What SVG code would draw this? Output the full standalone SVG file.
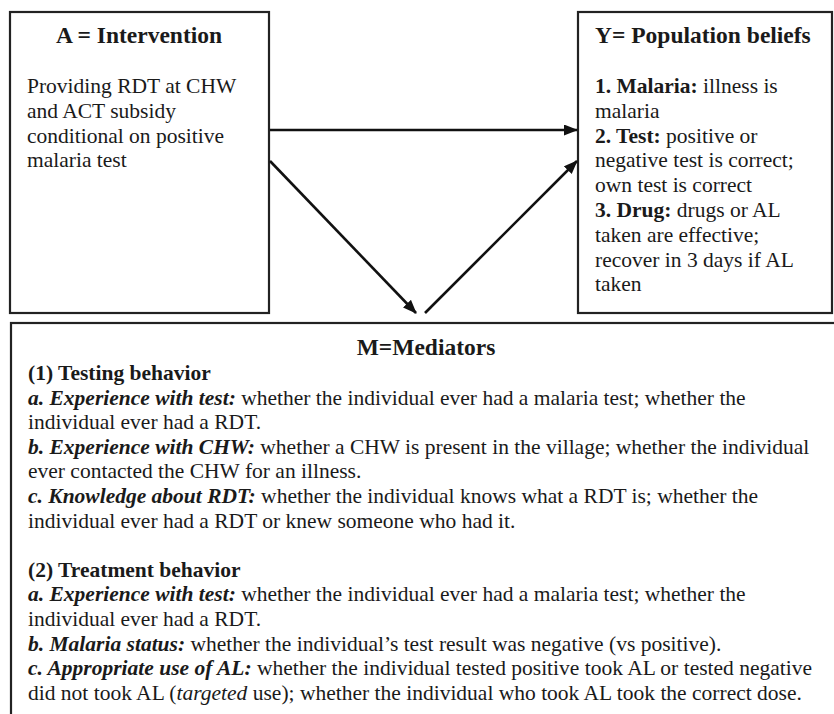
<svg xmlns="http://www.w3.org/2000/svg" width="834" height="714" viewBox="0 0 834 714">
<style>
text{font-family:"Liberation Serif","Times New Roman",serif;fill:#1a1a1a;font-size:21.5px}
.title{font-size:23.5px;font-weight:bold}
.b{font-weight:bold}
.bi{font-weight:bold;font-style:italic}
.i{font-style:italic}
.box{fill:#fff;stroke:#222;stroke-width:2.2}
.conn{stroke:#111;stroke-width:2.6;fill:none;marker-end:url(#ah)}
</style>
<defs>
<marker id="ah" markerUnits="userSpaceOnUse" markerWidth="14" markerHeight="12" refX="13" refY="5.5" orient="auto">
<path d="M0,0 L14,5.5 L0,11 z" fill="#111"/>
</marker>
</defs>
<rect width="834" height="714" fill="#fff"/>
<g id="nodeA">
<rect class="box" x="10" y="12" width="259" height="301"/>
<text class="title" x="139" y="43" text-anchor="middle">A = Intervention</text>
<text x="27" y="93">Providing RDT at CHW</text>
<text x="27" y="118">and ACT subsidy</text>
<text x="27" y="143">conditional on positive</text>
<text x="27" y="167">malaria test</text>
</g>
<g id="nodeY">
<rect class="box" x="578" y="12" width="254" height="301"/>
<text class="title" x="595" y="43">Y= Population beliefs</text>
<text x="595" y="93"><tspan class="b">1. Malaria:</tspan> illness is</text>
<text x="595" y="118">malaria</text>
<text x="595" y="143"><tspan class="b">2. Test:</tspan> positive or</text>
<text x="595" y="167">negative test is correct;</text>
<text x="595" y="192">own test is correct</text>
<text x="595" y="217"><tspan class="b">3. Drug:</tspan> drugs or AL</text>
<text x="595" y="242">taken are effective;</text>
<text x="595" y="267">recover in 3 days if AL</text>
<text x="595" y="291">taken</text>
</g>
<g id="nodeM">
<rect class="box" x="11" y="323" width="830" height="400"/>
<text class="title" x="426" y="355" text-anchor="middle">M=Mediators</text>
<text class="b" x="28" y="380">(1) Testing behavior</text>
<text x="28" y="405"><tspan class="bi">a. Experience with test:</tspan> whether the individual ever had a malaria test; whether the</text>
<text x="28" y="429">individual ever had a RDT.</text>
<text x="28" y="454"><tspan class="bi">b. Experience with CHW:</tspan> whether a CHW is present in the village; whether the individual</text>
<text x="28" y="478">ever contacted the CHW for an illness.</text>
<text x="28" y="503"><tspan class="bi">c. Knowledge about RDT:</tspan> whether the individual knows what a RDT is; whether the</text>
<text x="28" y="528">individual ever had a RDT or knew someone who had it.</text>
<text class="b" x="28" y="577">(2) Treatment behavior</text>
<text x="28" y="601"><tspan class="bi">a. Experience with test:</tspan> whether the individual ever had a malaria test; whether the</text>
<text x="28" y="626">individual ever had a RDT.</text>
<text x="28" y="651"><tspan class="bi">b. Malaria status:</tspan> whether the individual’s test result was negative (vs positive).</text>
<text x="28" y="675"><tspan class="bi">c. Appropriate use of AL:</tspan> whether the individual tested positive took AL or tested negative</text>
<text x="28" y="700">did not took AL (<tspan class="i">targeted</tspan> use); whether the individual who took AL took the correct dose.</text>
</g>
<g id="connectors">
<line class="conn" x1="270" y1="130" x2="577" y2="130"/>
<line class="conn" x1="270" y1="161" x2="416" y2="313"/>
<line class="conn" x1="425" y1="313" x2="577" y2="161"/>
</g>
</svg>
